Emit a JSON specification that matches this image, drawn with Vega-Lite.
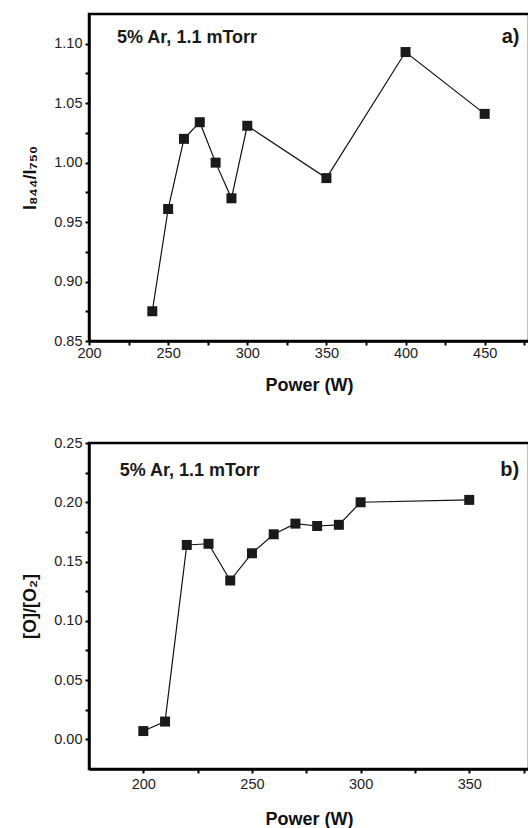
{
  "$schema": "https://vega.github.io/schema/vega-lite/v6.json",
  "background": "white",
  "padding": {"left": 20, "top": 12, "right": 0, "bottom": 0},
  "spacing": 37,
  "datasets": {
    "a": [
      {"power": 240, "value": 0.875},
      {"power": 250, "value": 0.961},
      {"power": 260, "value": 1.020},
      {"power": 270, "value": 1.034},
      {"power": 280, "value": 1.000},
      {"power": 290, "value": 0.970},
      {"power": 300, "value": 1.031},
      {"power": 350, "value": 0.987},
      {"power": 400, "value": 1.093},
      {"power": 450, "value": 1.041}
    ],
    "b": [
      {"power": 200, "value": 0.007},
      {"power": 210, "value": 0.015},
      {"power": 220, "value": 0.164},
      {"power": 230, "value": 0.165},
      {"power": 240, "value": 0.134},
      {"power": 250, "value": 0.157},
      {"power": 260, "value": 0.173},
      {"power": 270, "value": 0.182},
      {"power": 280, "value": 0.180},
      {"power": 290, "value": 0.181},
      {"power": 300, "value": 0.200},
      {"power": 350, "value": 0.202}
    ],
    "noteA": [{"power": 217.7, "value": 1.101, "label": "5% Ar, 1.1 mTorr"}],
    "tagA": [{"power": 472, "value": 1.101, "label": "a)"}],
    "noteB": [{"power": 189.1, "value": 0.222, "label": "5% Ar, 1.1 mTorr"}],
    "tagB": [{"power": 373, "value": 0.222, "label": "b)"}]
  },
  "config": {
    "view": {"stroke": "black", "strokeWidth": 2.5},
    "font": "Liberation Sans",
    "axis": {
      "grid": false,
      "domainColor": "black",
      "domainWidth": 2.5,
      "tickColor": "black",
      "tickWidth": 2,
      "tickSize": 4,
      "labelFont": "Liberation Sans",
      "labelFontSize": 14.5,
      "labelColor": "#222",
      "labelFlush": false,
      "labelOverlap": false,
      "titleFont": "Liberation Sans",
      "titleFontSize": 18,
      "titleFontWeight": "bold",
      "titleColor": "#111"
    }
  },
  "vconcat": [
    {
      "width": 440,
      "height": 327,
      "encoding": {
        "x": {
          "field": "power", "type": "quantitative",
          "scale": {"domain": [200, 478], "nice": false, "zero": false},
          "axis": {
            "title": "Power (W)",
            "values": [200, 225, 250, 275, 300, 325, 350, 375, 400, 425, 450, 475],
            "labelExpr": "datum.value % 50 === 0 ? datum.label : ''",
            "labelPadding": 1,
            "titlePadding": 17
          }
        },
        "y": {
          "field": "value", "type": "quantitative",
          "scale": {"domain": [0.85, 1.125], "nice": false, "zero": false},
          "axis": {
            "title": "I₈₄₄/I₇₅₀",
            "values": [0.85, 0.875, 0.9, 0.925, 0.95, 0.975, 1.0, 1.025, 1.05, 1.075, 1.1],
            "labelExpr": "abs(datum.value*20 - round(datum.value*20)) < 0.001 ? format(datum.value, '.2f') : ''",
            "labelPadding": 3,
            "titlePadding": 14
          }
        }
      },
      "layer": [
        {
          "data": {"name": "a"},
          "mark": {"type": "line", "color": "#111", "strokeWidth": 1.2}
        },
        {
          "data": {"name": "a"},
          "mark": {"type": "square", "size": 100, "color": "#1a1a1a", "opacity": 1}
        },
        {
          "data": {"name": "noteA"},
          "mark": {"type": "text", "align": "left", "baseline": "alphabetic", "fontSize": 18, "fontWeight": "bold", "color": "#1a1a1a"},
          "encoding": {"text": {"field": "label"}}
        },
        {
          "data": {"name": "tagA"},
          "mark": {"type": "text", "align": "right", "baseline": "alphabetic", "fontSize": 20, "fontWeight": "bold", "color": "#1a1a1a"},
          "encoding": {"text": {"field": "label"}}
        }
      ]
    },
    {
      "width": 440,
      "height": 326,
      "encoding": {
        "x": {
          "field": "power", "type": "quantitative",
          "scale": {"domain": [175, 377.5], "nice": false, "zero": false},
          "axis": {
            "title": "Power (W)",
            "values": [200, 225, 250, 275, 300, 325, 350, 375],
            "labelExpr": "datum.value % 50 === 0 ? datum.label : ''",
            "labelPadding": 4,
            "titlePadding": 20
          }
        },
        "y": {
          "field": "value", "type": "quantitative",
          "scale": {"domain": [-0.025, 0.25], "nice": false, "zero": false},
          "axis": {
            "title": "[O]/[O₂]",
            "values": [0, 0.025, 0.05, 0.075, 0.1, 0.125, 0.15, 0.175, 0.2, 0.225, 0.25],
            "labelExpr": "abs(datum.value*20 - round(datum.value*20)) < 0.001 ? format(datum.value, '.2f') : ''",
            "labelPadding": 3,
            "titlePadding": 14
          }
        }
      },
      "layer": [
        {
          "data": {"name": "b"},
          "mark": {"type": "line", "color": "#111", "strokeWidth": 1.2}
        },
        {
          "data": {"name": "b"},
          "mark": {"type": "square", "size": 100, "color": "#1a1a1a", "opacity": 1}
        },
        {
          "data": {"name": "noteB"},
          "mark": {"type": "text", "align": "left", "baseline": "alphabetic", "fontSize": 18, "fontWeight": "bold", "color": "#1a1a1a"},
          "encoding": {"text": {"field": "label"}}
        },
        {
          "data": {"name": "tagB"},
          "mark": {"type": "text", "align": "right", "baseline": "alphabetic", "fontSize": 20, "fontWeight": "bold", "color": "#1a1a1a"},
          "encoding": {"text": {"field": "label"}}
        }
      ]
    }
  ]
}
